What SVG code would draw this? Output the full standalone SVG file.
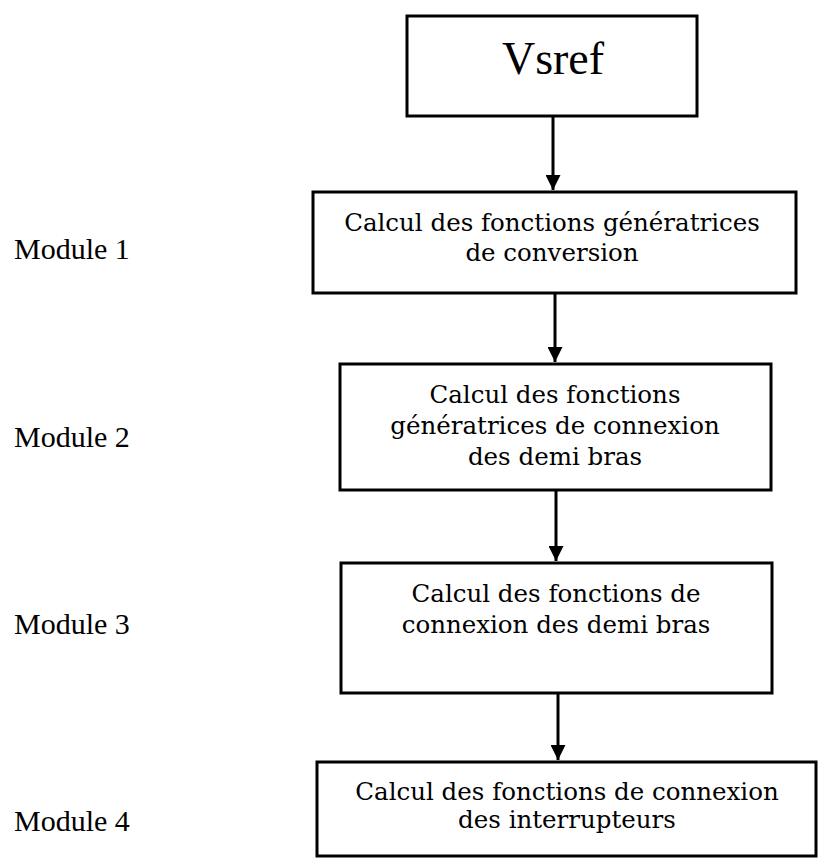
<svg xmlns="http://www.w3.org/2000/svg" width="819" height="861" viewBox="0 0 819 861">
  <defs>
    <marker id="arrowhead" viewBox="0 0 10 10" refX="10" refY="5" markerWidth="5" markerHeight="5" markerUnits="strokeWidth" orient="auto">
      <path d="M0,0 L10,5 L0,10 Z" fill="#000"/>
    </marker>
    <style>
      .box { fill: #fff; stroke: #000; stroke-width: 3; }
      .label { font-family: "DejaVu Serif", "Liberation Serif", serif; font-size: 24.5px; fill: #000; text-anchor: middle; }
      .module { font-family: "Liberation Serif", "Times New Roman", serif; font-size: 30px; fill: #000; }
      .title { font-family: "Liberation Serif", "Times New Roman", serif; font-size: 46px; fill: #000; text-anchor: middle; }
      .link { stroke: #000; stroke-width: 3; fill: none; marker-end: url(#arrowhead); }
    </style>
  </defs>
  <rect width="819" height="861" fill="#fff"/>

  <!-- module captions -->
  <g id="captions">
    <text class="module" x="14" y="259">Module 1</text>
    <text class="module" x="14" y="447">Module 2</text>
    <text class="module" x="14" y="634">Module 3</text>
    <text class="module" x="14" y="831">Module 4</text>
  </g>

  <!-- connectors -->
  <g id="connectors">
    <line class="link" x1="553" y1="117" x2="553" y2="190"/>
    <line class="link" x1="555" y1="294" x2="555" y2="362"/>
    <line class="link" x1="556" y1="490" x2="556" y2="561"/>
    <line class="link" x1="558" y1="693" x2="558" y2="760"/>
  </g>

  <g id="vsref">
    <rect class="box" x="407" y="16" width="290" height="100"/>
    <text class="title" x="553" y="74">Vsref</text>
  </g>

  <g id="module1">
    <rect class="box" x="313" y="192" width="483" height="101"/>
    <text class="label" x="552" y="231">Calcul des fonctions génératrices</text>
    <text class="label" x="552" y="261">de conversion</text>
  </g>

  <g id="module2">
    <rect class="box" x="340" y="364" width="431" height="126"/>
    <text class="label" x="555" y="403">Calcul des fonctions</text>
    <text class="label" x="555" y="434">génératrices de connexion</text>
    <text class="label" x="555" y="465">des demi bras</text>
  </g>

  <g id="module3">
    <rect class="box" x="341" y="563" width="431" height="130"/>
    <text class="label" x="556" y="602">Calcul des fonctions de</text>
    <text class="label" x="556" y="633">connexion des demi bras</text>
  </g>

  <g id="module4">
    <rect class="box" x="317" y="762" width="499" height="94"/>
    <text class="label" x="567" y="800">Calcul des fonctions de connexion</text>
    <text class="label" x="567" y="828">des interrupteurs</text>
  </g>
</svg>
